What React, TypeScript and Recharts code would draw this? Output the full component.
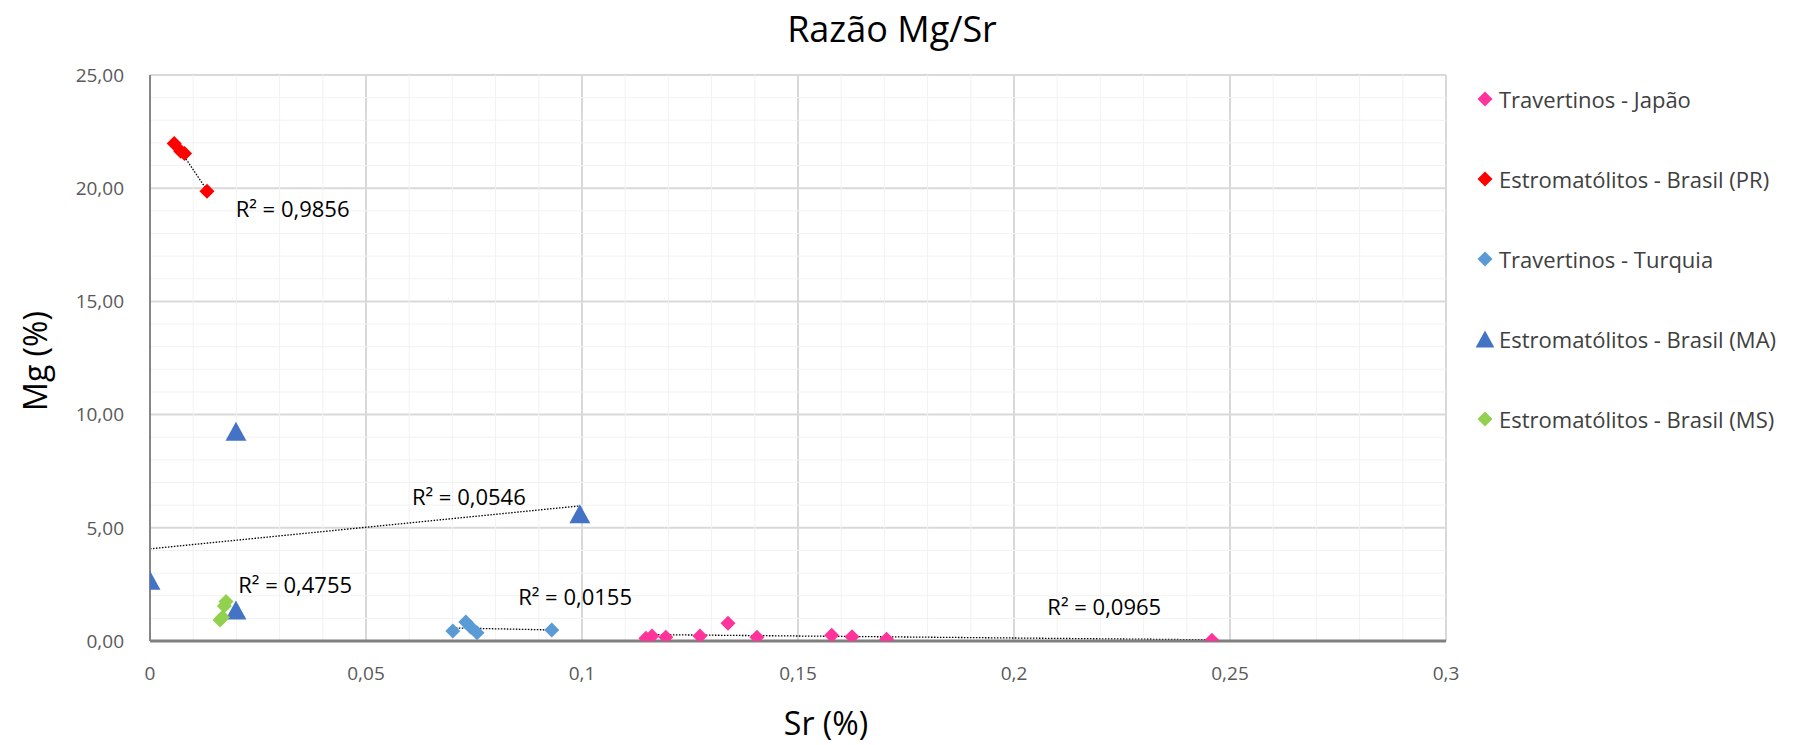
import React from 'react';
import {
  ScatterChart, Scatter, XAxis, YAxis, CartesianGrid, ReferenceLine, ReferenceDot
} from 'recharts';

const FONT = '"Open Sans", sans-serif';

// Sr (%) , Mg (%)
const japao = [
  { x: 0.1148, y: 0.12 }, { x: 0.1162, y: 0.22 }, { x: 0.1194, y: 0.17 },
  { x: 0.1273, y: 0.22 }, { x: 0.1338, y: 0.78 }, { x: 0.1405, y: 0.17 },
  { x: 0.1578, y: 0.25 }, { x: 0.1625, y: 0.19 }, { x: 0.1705, y: 0.08 },
  { x: 0.2458, y: 0.03 },
];
const pr = [
  { x: 0.0056, y: 21.97 }, { x: 0.0071, y: 21.63 }, { x: 0.0080, y: 21.53 }, { x: 0.0132, y: 19.87 },
];
const turquia = [
  { x: 0.0701, y: 0.44 }, { x: 0.0731, y: 0.84 }, { x: 0.0742, y: 0.62 },
  { x: 0.0757, y: 0.36 }, { x: 0.0930, y: 0.49 },
];
const ma = [
  { x: 0.0, y: 2.68 }, { x: 0.0199, y: 9.27 }, { x: 0.0995, y: 5.62 }, { x: 0.0199, y: 1.37 },
];
const ms = [
  { x: 0.0162, y: 0.93 }, { x: 0.0168, y: 1.05 }, { x: 0.0172, y: 1.55 }, { x: 0.0176, y: 1.75 },
];

const seriesNames = [
  'Travertinos - Japão',
  'Estromatólitos - Brasil (PR)',
  'Travertinos - Turquia',
  'Estromatólitos - Brasil (MA)',
  'Estromatólitos - Brasil (MS)',
];
const seriesColors = ['#FF3399', '#FF0000', '#5B9BD5', '#4472C4', '#92D050'];
const seriesShapes = ['diamond', 'diamond', 'diamond', 'triangle', 'diamond'];
const seriesData = [japao, pr, turquia, ma, ms];

const xTicks = [0, 0.05, 0.1, 0.15, 0.2, 0.25, 0.3];
const yTicks = [0, 5, 10, 15, 20, 25];
const xMinor = [0.01, 0.02, 0.03, 0.04, 0.06, 0.07, 0.08, 0.09, 0.11, 0.12, 0.13, 0.14,
  0.16, 0.17, 0.18, 0.19, 0.21, 0.22, 0.23, 0.24, 0.26, 0.27, 0.28, 0.29];
const yMinor = [1, 2, 3, 4, 6, 7, 8, 9, 11, 12, 13, 14, 16, 17, 18, 19, 21, 22, 23, 24];

// R² labels (placed in data coordinates)
const r2Labels = [
  { x: 0.033, y: 19.07, text: 'R² = 0,9856' },
  { x: 0.0738, y: 6.36, text: 'R² = 0,0546' },
  { x: 0.0336, y: 2.47, text: 'R² = 0,4755' },
  { x: 0.0984, y: 1.94, text: 'R² = 0,0155' },
  { x: 0.2209, y: 1.5, text: 'R² = 0,0965' },
];

// least squares trend line over the x range of a series
function trend(data: { x: number; y: number }[]) {
  const n = data.length;
  const mx = data.reduce((s, d) => s + d.x, 0) / n;
  const my = data.reduce((s, d) => s + d.y, 0) / n;
  let sxy = 0, sxx = 0;
  data.forEach(d => { sxy += (d.x - mx) * (d.y - my); sxx += (d.x - mx) ** 2; });
  const b = sxy / sxx;
  const a = my - b * mx;
  const x0 = Math.min(...data.map(d => d.x));
  const x1 = Math.max(...data.map(d => d.x));
  return [{ x: x0, y: a + b * x0 }, { x: x1, y: a + b * x1 }];
}

function Marker({ cx, cy, color, shape, size }: any) {
  if (cx == null || cy == null) return null;
  if (shape === 'triangle') {
    const w = size * 1.1, h = size;
    return <polygon points={`${cx},${cy - h / 2} ${cx + w / 2},${cy + h / 2} ${cx - w / 2},${cy + h / 2}`} fill={color} />;
  }
  const r = size / 2;
  return <polygon points={`${cx},${cy - r} ${cx + r},${cy} ${cx},${cy + r} ${cx - r},${cy}`} fill={color} />;
}

function ChartLegend() {
  return (
    <div style={{ position: 'absolute', left: 1474, top: 59, fontFamily: FONT }}>
      {seriesNames.map((name, i) => (
        <div key={name} style={{ display: 'flex', alignItems: 'center', height: 80 }}>
          <svg width={22} height={22} style={{ marginRight: 3 }}>
            <Marker cx={11} cy={11} color={seriesColors[i]} shape={seriesShapes[i]} size={seriesShapes[i] === 'triangle' ? 17 : 15} />
          </svg>
          <span style={{ fontSize: 22, color: '#404040', whiteSpace: 'nowrap' }}>{name}</span>
        </div>
      ))}
    </div>
  );
}

const fmtX = (v: number) => String(v).replace('.', ',');
const fmtY = (v: number) => v.toFixed(2).replace('.', ',');

export default function App() {
  return (
    <div style={{ position: 'absolute', left: 0, top: 0, width: 1809, height: 745, background: '#fff' }}>
      <ScatterChart width={1809} height={745} margin={{ top: 75, right: 363, bottom: 0, left: 0 }}>
        {xMinor.map(v => <ReferenceLine key={'mx' + v} x={v} stroke="#f2f2f2" strokeWidth={1} />)}
        {yMinor.map(v => <ReferenceLine key={'my' + v} y={v} stroke="#f2f2f2" strokeWidth={1} />)}
        <CartesianGrid stroke="#d9d9d9" strokeWidth={2} />
        <XAxis
          type="number" dataKey="x" domain={[0, 0.3]} ticks={xTicks} height={104}
          tickFormatter={fmtX} tickLine={false} tickSize={0} tickMargin={26}
          axisLine={{ stroke: '#7f7f7f', strokeWidth: 3 }}
          tick={{ fontSize: 19, fill: '#595959', fontFamily: FONT }}
          allowDataOverflow
        />
        <YAxis
          type="number" dataKey="y" domain={[0, 25]} ticks={yTicks} width={150}
          tickFormatter={fmtY} tickLine={false} tickSize={0} tickMargin={26}
          axisLine={{ stroke: '#868686', strokeWidth: 2 }}
          tick={{ fontSize: 19, fill: '#595959', fontFamily: FONT }}
          allowDataOverflow
        />
        {seriesData.map((d, i) => {
          const seg = trend(d);
          return (
            <ReferenceLine key={'t' + i} segment={seg} stroke="#000" strokeWidth={1.3} strokeDasharray="1.5 1.5" ifOverflow="visible" />
          );
        })}
        {seriesData.map((d, i) => (
          <Scatter
            key={seriesNames[i]}
            name={seriesNames[i]}
            data={d}
            fill={seriesColors[i]}
            isAnimationActive={false}
            shape={(p: any) => (
              <Marker cx={p.cx} cy={p.cy} color={seriesColors[i]} shape={seriesShapes[i]} size={seriesShapes[i] === 'triangle' ? 19 : 15} />
            )}
          />
        ))}
        {r2Labels.map(l => (
          <ReferenceDot
            key={l.text} x={l.x} y={l.y} r={0} stroke="none" fill="none"
            label={{ value: l.text, position: 'center', fontSize: 22, fill: '#000', fontFamily: FONT }}
          />
        ))}
        <text x={892} y={42} textAnchor="middle" fontSize={36} fontFamily={FONT} fill="#000">Razão Mg/Sr</text>
        <text x={826} y={735} textAnchor="middle" fontSize={32} fontFamily={FONT} fill="#000">Sr (%)</text>
        <text x={47} y={361} textAnchor="middle" fontSize={32} fontFamily={FONT} fill="#000" transform="rotate(-90 47 361)">Mg (%)</text>
      </ScatterChart>
      <ChartLegend />
    </div>
  );
}
